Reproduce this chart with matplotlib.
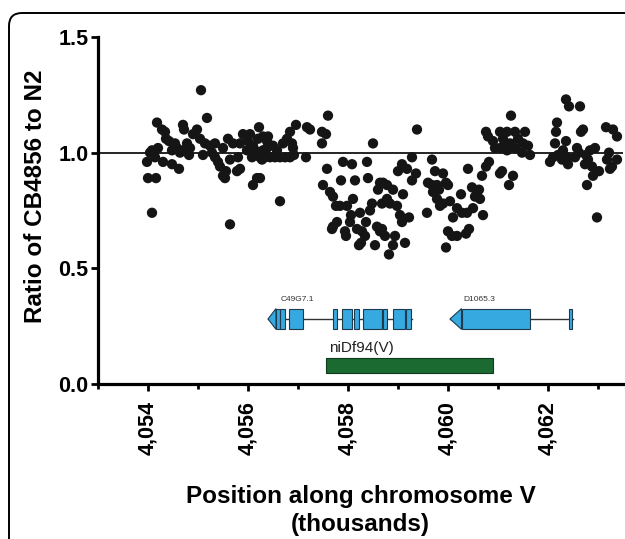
import matplotlib
matplotlib.use("Agg")
import matplotlib.pyplot as plt
import matplotlib.patches as patches
from matplotlib.ticker import FuncFormatter, MultipleLocator

plt.rcParams["font.family"] = ["Liberation Sans", "DejaVu Sans"]

# position along chromosome V (thousands of bp) and CB4856/N2 ratio
pos = [
    4053.98, 4054.00, 4054.16, 4054.08, 4054.04, 4054.08, 4054.20, 4054.14, 4054.18, 4054.28,
    4054.34, 4054.36, 4054.42, 4054.54, 4054.48, 4054.58, 4054.64, 4054.70, 4054.70, 4054.72,
    4054.78, 4054.84, 4054.82, 4054.30, 4054.48, 4054.62, 4055.06, 4055.18, 4054.98, 4054.90,
    4055.04, 4055.14, 4055.24, 4055.34, 4055.10, 4055.28, 4055.50, 4055.34, 4055.40, 4055.44,
    4055.60, 4055.70, 4055.84, 4055.64, 4055.80, 4055.56, 4055.50, 4055.54, 4055.78, 4055.84,
    4055.64, 4055.90, 4056.04, 4056.00, 4056.10, 4055.98, 4056.14, 4056.20, 4056.22, 4056.28,
    4056.30, 4056.18, 4056.10, 4056.08,
    4056.30, 4056.40, 4056.38, 4056.38, 4056.50, 4056.58, 4056.70, 4056.78, 4056.84, 4056.88,
    4056.90, 4056.96, 4057.18, 4057.24, 4056.24, 4056.34, 4056.44, 4056.54, 4056.64, 4056.74,
    4056.84, 4056.92, 4057.16, 4056.24, 4056.64, 4057.60, 4057.48, 4057.56, 4057.48,
    4057.58, 4057.50, 4057.64, 4057.70, 4057.76, 4057.84, 4057.90, 4058.08, 4058.38, 4057.86,
    4058.14, 4058.40, 4058.64, 4058.60, 4058.10, 4057.98, 4058.48, 4058.68, 4058.24, 4058.44,
    4058.06, 4057.78, 4057.70, 4057.68, 4058.04, 4058.36, 4057.94, 4057.96, 4058.18, 4058.28,
    4058.34, 4058.58, 4058.64, 4058.26, 4058.54, 4058.50, 4058.22,
    4059.38, 4059.28, 4059.68, 4059.08, 4059.18, 4059.00, 4059.36, 4059.28, 4059.74, 4059.90,
    4059.60, 4059.68, 4059.78, 4059.96, 4060.00, 4060.40, 4060.82, 4060.76, 4060.68, 4061.04,
    4058.70, 4058.78, 4058.90, 4059.10, 4059.70, 4059.82, 4059.78, 4059.84, 4059.90, 4060.26,
    4060.04, 4060.48, 4060.58, 4060.62, 4060.64, 4060.54, 4058.78, 4058.84, 4058.98, 4060.18,
    4060.28, 4060.38, 4060.50, 4060.10, 4060.70, 4059.58, 4059.04, 4059.22, 4059.08, 4058.68,
    4058.74, 4058.94, 4059.14, 4058.90, 4058.82, 4060.00, 4060.08, 4060.18, 4060.36, 4060.42,
    4059.96, 4060.80, 4060.76, 4060.90, 4060.94,
    4061.26, 4061.04, 4061.18, 4061.34, 4061.54, 4061.10, 4061.24, 4061.40, 4061.50, 4061.60,
    4061.04, 4061.18, 4061.34, 4061.48, 4061.64, 4061.14, 4061.08, 4061.30, 4061.22, 4062.36,
    4062.42, 4062.64, 4062.18, 4062.16, 4062.14, 4062.36, 4062.70, 4062.66, 4063.16, 4063.30,
    4063.38, 4062.04, 4062.10, 4062.20, 4062.30, 4062.38, 4062.40, 4062.28, 4062.58, 4062.62,
    4062.54, 4062.76, 4062.84, 4062.94, 4062.80, 4062.74, 4062.88, 4063.22, 4063.18, 4063.28,
    4063.24, 4063.38, 4063.02, 4062.90, 4062.78, 4062.98,
]
ratio = [
    0.96, 0.89, 0.89, 0.74, 1.00, 1.01, 1.02, 0.98, 1.13, 1.10,
    1.09, 1.06, 1.05, 1.04, 1.01, 1.02, 1.00, 1.01, 1.12, 1.10,
    1.04, 1.02, 0.99, 0.96, 0.95, 0.93, 1.27, 1.15, 1.10, 1.08,
    1.06, 1.04, 1.03, 1.04, 0.99, 1.00, 1.02, 0.98, 0.96, 0.94,
    1.06, 1.04, 1.04, 0.97, 0.98, 0.92, 0.90, 0.89, 0.92, 0.93,
    0.69, 1.08, 1.08, 1.05, 1.03, 1.01, 1.01, 1.06, 1.11, 0.97,
    1.01, 0.89, 0.86, 0.98,
    1.07, 1.07, 1.05, 1.02, 1.03, 1.01, 1.04, 1.06, 1.09, 1.04,
    1.02, 1.12, 1.11, 1.10, 0.98, 0.98, 0.98, 0.98, 0.98, 0.98,
    0.98, 0.99, 0.98, 0.89, 0.79, 1.16, 1.09, 1.08, 1.04,
    0.93, 0.86, 0.83, 0.81, 0.77, 0.77, 0.96, 0.95, 0.96, 0.88,
    0.88, 0.89, 0.87, 0.84, 0.80, 0.77, 0.78, 0.78, 0.74, 0.75,
    0.73, 0.70, 0.68, 0.67, 0.70, 0.70, 0.66, 0.64, 0.67, 0.66,
    0.64, 0.68, 0.66, 0.61, 0.60, 1.04, 0.60,
    1.10, 0.98, 0.97, 0.95, 0.93, 0.92, 0.91, 0.88, 0.92, 0.91,
    0.87, 0.86, 0.86, 0.87, 0.86, 0.93, 0.96, 0.94, 0.90, 0.91,
    0.87, 0.86, 0.84, 0.82, 0.83, 0.84, 0.80, 0.77, 0.78, 0.82,
    0.79, 0.85, 0.83, 0.84, 0.80, 0.81, 0.80, 0.78, 0.77, 0.76,
    0.74, 0.74, 0.76, 0.72, 0.73, 0.74, 0.73, 0.72, 0.70, 0.67,
    0.64, 0.64, 0.61, 0.60, 0.56, 0.66, 0.64, 0.64, 0.65, 0.67,
    0.59, 1.07, 1.09, 1.05, 1.02,
    1.16, 1.09, 1.09, 1.09, 1.09, 1.06, 1.04, 1.06, 1.04, 1.03,
    1.02, 1.01, 1.02, 1.00, 0.99, 1.04, 0.92, 0.90, 0.86, 1.23,
    1.20, 1.20, 1.13, 1.09, 1.04, 1.05, 1.10, 1.09, 1.11, 1.10,
    1.07, 0.96, 0.98, 0.99, 1.01, 0.98, 0.95, 0.97, 1.02, 1.00,
    0.98, 0.99, 1.01, 1.02, 0.97, 0.95, 0.94, 1.00, 0.97, 0.94,
    0.93, 0.97, 0.92, 0.90, 0.86, 0.72,
]

# gene models (exon start, end in thousands)
c49_exons = [(4056.56, 4056.63), (4056.63, 4056.75), (4056.81, 4057.09), (4057.69, 4057.79),
             (4057.87, 4058.07), (4058.11, 4058.23), (4058.29, 4058.67), (4058.69, 4058.79),
             (4058.89, 4059.13), (4059.15, 4059.27)]
c49_tip = 4056.40
d1065_exons = [(4060.27, 4061.63), (4062.41, 4062.49)]
d1065_tip = 4060.04
deletion = (4057.56, 4060.90)

gene_y, gene_h = 0.281, 0.09
exon_color, exon_edge = "#36a9e0", "#1f3a4d"

fig = plt.figure(figsize=(6.25, 5.39), dpi=100)
ax = fig.add_axes([0.1568, 0.2876, 0.84, 0.6438])

# rounded frame around the panel
frame = patches.FancyBboxPatch((0.09, -1.0), 7.0, 5.26 + 1.0,
                               boxstyle="round,pad=0,rounding_size=0.13",
                               transform=fig.dpi_scale_trans, fill=False,
                               edgecolor="black", linewidth=1.4, clip_on=False)
fig.patches.append(frame)

ax.axhline(1.0, color="black", linewidth=1.2, zorder=1)
ax.scatter(pos, ratio, s=55, color="#151515", edgecolors="none", zorder=3)


def draw_gene(exons, tip, label):
    top, bot = gene_y + gene_h / 2, gene_y - gene_h / 2
    ax.plot([tip, exons[-1][1]], [gene_y, gene_y], color="#333333", lw=1.0, zorder=2)
    first = exons[0][0]
    arrow = patches.Polygon([(tip, gene_y), (first, top), (first, bot)], closed=True,
                            facecolor=exon_color, edgecolor=exon_edge, lw=0.8, zorder=3)
    ax.add_patch(arrow)
    for s, e in exons:
        ax.add_patch(patches.Rectangle((s, bot), e - s, gene_h, facecolor=exon_color,
                                       edgecolor=exon_edge, lw=0.8, zorder=3))
    ax.text(tip + 0.26, top + 0.025, label, fontsize=6, color="#333333",
            ha="left", va="bottom", family=["Liberation Sans", "DejaVu Sans"])


draw_gene(c49_exons, c49_tip, "C49G7.1")
draw_gene(d1065_exons, d1065_tip, "D1065.3")

ax.add_patch(patches.Rectangle((deletion[0], 0.048), deletion[1] - deletion[0], 0.064,
                               facecolor="#1b6a32", edgecolor="#0f3a1c", lw=0.8, zorder=3))
ax.text(deletion[0] + 0.06, 0.125, "niDf94(V)", fontsize=11, color="#222222",
        ha="left", va="bottom")

ax.set_xlim(4053.0, 4063.5)
ax.set_ylim(0, 1.5)
ax.set_yticks([0, 0.5, 1.0, 1.5])
ax.yaxis.set_major_formatter(FuncFormatter(lambda v, p: f"{v:.1f}"))
ax.set_xticks([4054, 4056, 4058, 4060, 4062])
ax.xaxis.set_minor_locator(MultipleLocator(1))
ax.xaxis.set_major_formatter(FuncFormatter(lambda v, p: f"{v:,.0f}"))

for side in ["top", "right"]:
    ax.spines[side].set_visible(False)
for side in ["left", "bottom"]:
    ax.spines[side].set_linewidth(2.3)

ax.tick_params(axis="both", which="major", length=5, width=2, labelsize=15.5, pad=2)
ax.tick_params(axis="x", which="major", pad=7)
ax.tick_params(axis="x", which="minor", length=3.5, width=2)
for lab in ax.get_xticklabels() + ax.get_yticklabels():
    lab.set_fontweight("bold")
for lab in ax.get_xticklabels():
    lab.set_rotation(90)

ax.set_ylabel("Ratio of CB4856 to N2", fontsize=17.5, fontweight="bold")
ax.yaxis.set_label_coords(-0.097, 0.54)
ax.set_xlabel("Position along chromosome V\n(thousands)", fontsize=17.5,
              fontweight="bold", labelpad=22, linespacing=1.25)

fig.savefig("out.png", dpi=100)
